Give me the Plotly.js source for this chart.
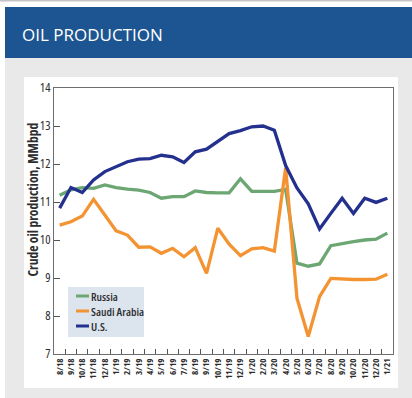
<!DOCTYPE html>
<html>
<head>
<meta charset="utf-8">
<script src="https://cdn.plot.ly/plotly-3.0.1.min.js"></script>
<style>
  html, body { margin: 0; padding: 0; background: #ffffff; }
  #chart { width: 412px; height: 398px; }
  #chart .xtick text, #chart .ytick text,
  #chart .annotation:not([data-index="0"]) text { font-stretch: 75%; }
</style>
</head>
<body>
<div id="chart"></div>
<script>
// ---- Data ----
const months = ['8/18','9/18','10/18','11/18','12/18','1/19','2/19','3/19','4/19','5/19','6/19','7/19',
  '8/19','9/19','10/19','11/19','12/19','1/20','2/20','3/20','4/20','5/20','6/20','7/20','8/20','9/20',
  '10/20','11/20','12/20','1/21'];

const russia = [11.18, 11.32, 11.38, 11.36, 11.45, 11.38, 11.34, 11.31, 11.25, 11.10, 11.14, 11.14,
  11.29, 11.25, 11.24, 11.24, 11.61, 11.28, 11.28, 11.28, 11.33, 9.39, 9.31, 9.37, 9.85, 9.91,
  9.96, 10.00, 10.02, 10.18];

const saudi = [10.39, 10.48, 10.63, 11.07, 10.66, 10.24, 10.13, 9.81, 9.82, 9.65, 9.78, 9.56,
  9.80, 9.12, 10.31, 9.89, 9.59, 9.77, 9.80, 9.71, 11.90, 8.47, 7.46, 8.51, 8.99, 8.97,
  8.96, 8.96, 8.97, 9.10];

const us = [10.84, 11.38, 11.25, 11.58, 11.80, 11.93, 12.06, 12.13, 12.14, 12.23, 12.19, 12.04,
  12.32, 12.39, 12.59, 12.80, 12.88, 12.98, 13.00, 12.89, 11.96, 11.37, 10.95, 10.29, 10.70, 11.10,
  10.70, 11.10, 10.99, 11.10];

const seriesNames = ['Russia', 'Saudi Arabia', 'U.S.'];
const yTicks = [7, 8, 9, 10, 11, 12, 13, 14];
const headerText = 'OIL PRODUCTION';
const yTitle = 'Crude oil production, MMbpd';

// ---- Styling ----
const narrow = "'Open Sans', sans-serif";   // condensed via CSS font-stretch
const seriesColors = ['#6ca673', '#f39332', '#23308e'];
const seriesData = [russia, saudi, us];

// plot area in pixels: x 54..393, y 88..354
const W = 412, H = 398, L = 54, R = 393, T = 88, B = 354;
const px = v => (v - L) / (R - L);
const py = v => (B - v) / (B - T);

const traces = seriesData.map((vals, i) => ({
  x: months, y: vals, name: seriesNames[i], type: 'scatter', mode: 'lines',
  line: { color: seriesColors[i], width: 3.3 }, showlegend: false
}));

// custom compact legend (box, short swatches, labels)
const legendShapes = [
  { type: 'rect', xref: 'paper', yref: 'paper', x0: px(68), x1: px(144), y0: py(337), y1: py(287),
    fillcolor: '#dce4ee', line: { width: 0 } }
];
const legendAnns = [];
seriesNames.forEach((nm, i) => {
  const yy = 296 + i * 15;
  legendShapes.push({ type: 'line', xref: 'paper', yref: 'paper', x0: px(76), x1: px(89),
    y0: py(yy), y1: py(yy), line: { color: seriesColors[i], width: 3 } });
  legendAnns.push({ text: nm, xref: 'paper', yref: 'paper', x: px(89), y: py(yy),
    xanchor: 'left', yanchor: 'middle', align: 'left', showarrow: false,
    font: { family: narrow, size: 11.5, color: '#2e2e2e', weight: 600 } });
});

const layout = {
  width: W, height: H,
  margin: { l: L, r: W - R, t: T, b: H - B, pad: 0 },
  paper_bgcolor: '#ffffff',
  plot_bgcolor: '#c9d1d9',
  showlegend: false,
  xaxis: {
    type: 'category', categoryarray: months, range: [-0.5, months.length - 0.5],
    tickson: 'boundaries', ticks: 'inside', ticklen: 5, tickwidth: 1, tickcolor: '#555555',
    tickangle: -90, tickfont: { family: narrow, size: 9, color: '#2e2e2e', weight: 'bold' },
    showline: true, linecolor: '#6e6e6e', linewidth: 1, mirror: true,
    showgrid: false, zeroline: false, fixedrange: true
  },
  yaxis: {
    range: [7, 14], tickvals: yTicks, ticktext: yTicks.map(String),
    ticks: 'inside', ticklen: 6, tickwidth: 1, tickcolor: '#555555',
    tickfont: { family: narrow, size: 12.5, color: '#2e2e2e' },
    showline: true, linecolor: '#6e6e6e', linewidth: 1, mirror: true,
    showgrid: false, zeroline: false, fixedrange: true
  },
  shapes: [
    { type: 'rect', xref: 'paper', yref: 'paper', layer: 'below',
      x0: px(0), x1: px(W), y0: py(1.5), y1: py(0), fillcolor: '#c4c4c4', line: { width: 0 } },
    { type: 'rect', xref: 'paper', yref: 'paper', layer: 'below',
      x0: px(5), x1: px(W), y0: py(58), y1: py(7), fillcolor: '#1c5591', line: { width: 0 } },
    { type: 'rect', xref: 'paper', yref: 'paper', layer: 'below',
      x0: px(5), x1: px(W), y0: py(H), y1: py(58), fillcolor: '#e9e9e9', line: { width: 0 } },
    { type: 'rect', xref: 'paper', yref: 'paper', layer: 'below',
      x0: px(24), x1: px(398), y0: py(388), y1: py(77), fillcolor: '#ffffff', line: { width: 0 } }
  ].concat(legendShapes),
  annotations: [
    { text: headerText, xref: 'paper', yref: 'paper', x: px(20), y: py(34),
      xanchor: 'left', yanchor: 'middle', showarrow: false,
      font: { family: "'Open Sans', sans-serif", size: 17, color: '#ffffff' } },
    { text: yTitle, xref: 'paper', yref: 'paper', x: px(33), y: py(200),
      xanchor: 'center', yanchor: 'middle', textangle: -90, showarrow: false,
      font: { family: narrow, size: 13.5, color: '#2e2e2e', weight: 'bold' } }
  ].concat(legendAnns)
};

Plotly.newPlot('chart', traces, layout, { displayModeBar: false, staticPlot: true });
</script>
</body>
</html>
